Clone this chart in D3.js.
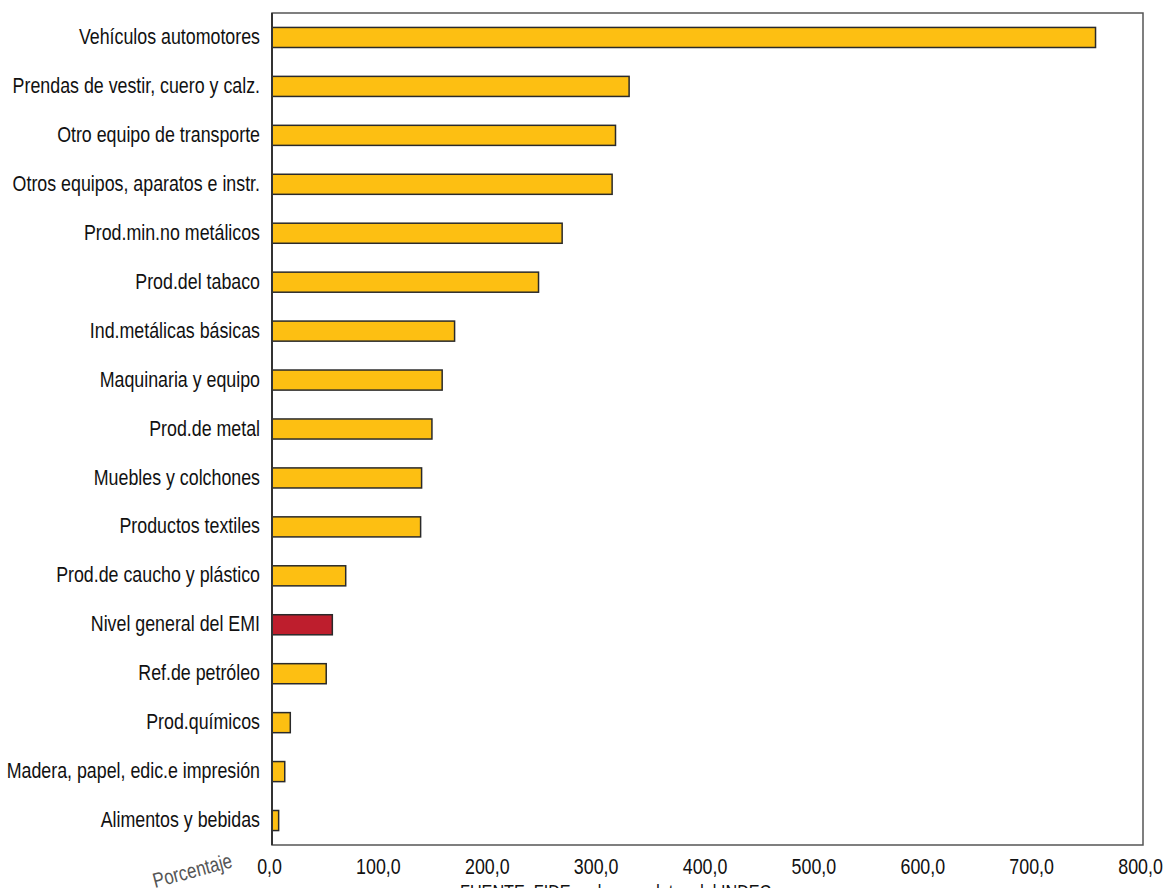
<!DOCTYPE html>
<html>
<head>
<meta charset="utf-8">
<script src="https://cdn.jsdelivr.net/npm/d3@7"></script>
<style>
  html, body { margin: 0; padding: 0; background: #fff; }
  svg { display: block; }
  text { font-family: "Liberation Sans", Arial, sans-serif; }
</style>
</head>
<body>
<svg id="chart" width="1164" height="888"></svg>
<script>
// Sectors, top to bottom, and their percentage values
const categories = [
  "Vehículos automotores",
  "Prendas de vestir, cuero y calz.",
  "Otro equipo de transporte",
  "Otros equipos, aparatos e instr.",
  "Prod.min.no metálicos",
  "Prod.del tabaco",
  "Ind.metálicas básicas",
  "Maquinaria y equipo",
  "Prod.de metal",
  "Muebles y colchones",
  "Productos textiles",
  "Prod.de caucho y plástico",
  "Nivel general del EMI",
  "Ref.de petróleo",
  "Prod.químicos",
  "Madera, papel, edic.e impresión",
  "Alimentos y bebidas"
];
const values = [756.4, 328.0, 315.5, 312.4, 266.5, 244.8, 167.7, 156.3, 146.9, 137.4, 136.5, 67.7, 55.4, 49.8, 16.8, 11.7, 6.1];
const highlighted = ["Nivel general del EMI"];
const xTicks = [0, 100, 200, 300, 400, 500, 600, 700, 800];

const svg = d3.select("#chart");
const plotLeft = 272, plotRight = 1143, plotTop = 13, plotBottom = 845;
// condensed lettering: regular sans squeezed horizontally
const squeeze = 0.81;

const x = d3.scaleLinear().domain([0, 800]).range([plotLeft, plotRight]);
const y = d3.scaleBand().domain(categories).range([plotTop, plotBottom]).paddingInner(0.59).paddingOuter(0.295);

// plot frame
svg.append("rect")
  .attr("x", plotLeft).attr("y", plotTop)
  .attr("width", plotRight - plotLeft).attr("height", plotBottom - plotTop)
  .attr("fill", "none").attr("stroke", "#555").attr("stroke-width", 1.5);

// bars
svg.append("g").selectAll("rect")
  .data(categories)
  .join("rect")
  .attr("x", x(0))
  .attr("y", d => y(d))
  .attr("width", (d, i) => x(values[i]) - x(0))
  .attr("height", y.bandwidth())
  .attr("fill", d => highlighted.includes(d) ? "#BE1E2D" : "#FDBF12")
  .attr("stroke", "#2a2a2a")
  .attr("stroke-width", 1.5);

// vertical axis line at zero
svg.append("line")
  .attr("x1", x(0)).attr("x2", x(0))
  .attr("y1", plotTop).attr("y2", plotBottom)
  .attr("stroke", "#333").attr("stroke-width", 2);

// category labels
const yAxis = d3.axisLeft(y).tickSize(0).tickPadding(12);
const gy = svg.append("g").attr("transform", `translate(${plotLeft},0)`).call(yAxis);
gy.select(".domain").remove();
gy.selectAll("text")
  .attr("font-size", 22).attr("fill", "#111")
  .attr("font-family", '"Liberation Sans", Arial, sans-serif')
  .attr("x", -12 / squeeze)
  .attr("dy", "0.3em")
  .attr("transform", `scale(${squeeze},1)`);

// value axis labels
const fmt = v => d3.format(".1f")(v).replace(".", ",");
const xAxis = d3.axisBottom(x).tickValues(xTicks).tickFormat(fmt).tickSize(0).tickPadding(13);
const gx = svg.append("g").attr("transform", `translate(0,${plotBottom})`).call(xAxis);
gx.select(".domain").remove();
gx.selectAll("text")
  .attr("font-size", 22).attr("fill", "#111")
  .attr("font-family", '"Liberation Sans", Arial, sans-serif')
  .attr("x", -3 / squeeze)
  .attr("transform", `scale(${squeeze},1)`);

// unit label
svg.append("text")
  .attr("transform", `translate(155,888) rotate(-15) scale(${squeeze},1)`)
  .attr("font-size", 21).attr("fill", "#555")
  .text("Porcentaje");

// source note
svg.append("text")
  .attr("transform", `translate(460,899) scale(${squeeze},1)`)
  .attr("font-size", 20).attr("fill", "#111")
  .text("FUENTE: FIDE en base a datos del INDEC");
</script>
</body>
</html>
